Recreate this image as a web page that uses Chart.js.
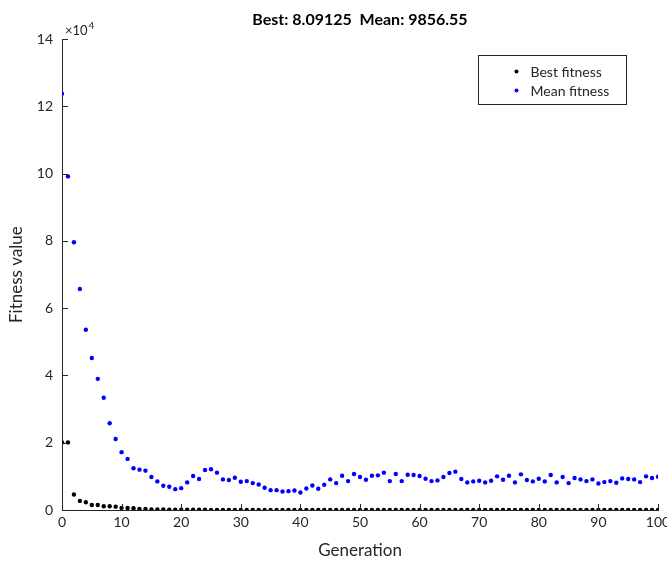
<!DOCTYPE html>
<html>
<head>
<meta charset="utf-8">
<script src="https://cdn.jsdelivr.net/npm/chart.js@4.4.1/dist/chart.umd.min.js"></script>
<style>
  html, body { margin: 0; padding: 0; background: #fff; }
  #wrap { width: 667px; height: 561px; }
</style>
</head>
<body>
<div id="wrap"><canvas id="gaChart" width="667" height="561"></canvas></div>
<script>
// generation index 0..100
const generations = Array.from({ length: 101 }, (_, i) => i);

const bestFitness = [
  20100, 20100, 4600, 2700, 2300, 1500, 1500, 1100, 1100, 1000,
  600, 600, 500, 300, 300, 200, 200, 150, 120, 100,
  90, 80, 70, 60, 55, 50, 45, 40, 38, 35,
  32, 30, 28, 26, 25, 24, 22, 21, 20, 19,
  18, 17.5, 17, 16.5, 16, 15.5, 15, 14.6, 14.2, 13.8,
  13.5, 13.2, 12.9, 12.6, 12.3, 12.0, 11.8, 11.6, 11.4, 11.2,
  11.0, 10.8, 10.6, 10.4, 10.3, 10.2, 10.0, 9.9, 9.8, 9.7,
  9.6, 9.5, 9.4, 9.3, 9.2, 9.1, 9.0, 8.95, 8.9, 8.85,
  8.8, 8.75, 8.7, 8.65, 8.6, 8.55, 8.5, 8.45, 8.4, 8.35,
  8.3, 8.27, 8.24, 8.21, 8.18, 8.15, 8.13, 8.11, 8.1, 8.095, 8.09125
];

const meanFitness = [
  123800, 99200, 79600, 65700, 53600, 45200, 39000, 33400, 25800, 21100,
  17200, 15200, 12400, 12000, 11700, 9800, 8500, 7200, 6900, 6200,
  6500, 8200, 10100, 9200, 11900, 12100, 11100, 9100, 8900, 9600,
  8400, 8600, 8000, 7600, 6600, 5900, 5900, 5500, 5600, 5800,
  5200, 6400, 7300, 6300, 7500, 9100, 8000, 10200, 8600, 10700,
  9800, 9000, 10200, 10300, 11100, 8600, 10700, 8600, 10500, 10400,
  10100, 9300, 8600, 8800, 9800, 11000, 11400, 9200, 8200, 8500,
  8700, 8200, 8700, 10000, 9000, 10200, 8200, 10600, 8900, 8500,
  9300, 8500, 10400, 8200, 9800, 8000, 9500, 9100, 8600, 9100,
  7900, 8300, 8600, 8100, 9400, 9200, 9100, 8300, 10000, 9500, 9900
];

const yTicks = [0, 2, 4, 6, 8, 10, 12, 14]; // in units of 1e4
const xTicks = [0, 10, 20, 30, 40, 50, 60, 70, 80, 90, 100];

const axisColor = '#262626';
const fontFam = 'Lato, "Open Sans", sans-serif';

const pts = arr => arr.map((v, i) => ({ x: generations[i], y: v }));

// inward tick marks, MATLAB style
const innerTicks = {
  id: 'innerTicks',
  afterDraw(chart) {
    const { ctx, scales: { x, y } } = chart;
    ctx.save();
    ctx.strokeStyle = axisColor;
    ctx.lineWidth = 1;
    ctx.beginPath();
    xTicks.forEach(t => {
      const px = Math.round(x.getPixelForValue(t)) + 0.5;
      ctx.moveTo(px, y.bottom);
      ctx.lineTo(px, y.bottom - 6);
    });
    yTicks.forEach(t => {
      const py = Math.round(y.getPixelForValue(t * 1e4)) + 0.5;
      ctx.moveTo(x.left, py);
      ctx.lineTo(x.left + 6, py);
    });
    ctx.stroke();

    // exponent label
    ctx.fillStyle = axisColor;
    ctx.textBaseline = 'alphabetic';
    ctx.textAlign = 'left';
    ctx.font = '13px ' + fontFam;
    ctx.fillText('\u00d710', x.left + 3, y.top - 4);
    const w = ctx.measureText('\u00d710').width;
    ctx.font = '10px ' + fontFam;
    ctx.fillText('4', x.left + 3 + w + 1, y.top - 10);
    ctx.restore();
  }
};

// boxed legend in the upper right
const boxLegend = {
  id: 'boxLegend',
  afterDraw(chart) {
    const { ctx } = chart;
    const bx = 478.5, by = 55.5, bw = 148, bh = 49;
    ctx.save();
    ctx.fillStyle = '#fff';
    ctx.fillRect(bx, by, bw, bh);
    ctx.strokeStyle = axisColor;
    ctx.lineWidth = 1;
    ctx.strokeRect(bx, by, bw, bh);
    ctx.font = '14px ' + fontFam;
    ctx.textBaseline = 'middle';
    ctx.textAlign = 'left';
    chart.data.datasets.forEach((ds, i) => {
      const cy = by + 16 + i * 19;
      ctx.fillStyle = ds.pointBackgroundColor;
      ctx.beginPath();
      ctx.arc(bx + 38, cy, 2, 0, Math.PI * 2);
      ctx.fill();
      ctx.fillStyle = axisColor;
      ctx.fillText(ds.label, bx + 52, cy + 1);
    });
    ctx.restore();
  }
};

new Chart(document.getElementById('gaChart'), {
  type: 'scatter',
  data: {
    datasets: [
      {
        label: 'Best fitness',
        data: pts(bestFitness),
        pointBackgroundColor: '#000000',
        pointBorderWidth: 0,
        pointRadius: 2.2,
        showLine: false
      },
      {
        label: 'Mean fitness',
        data: pts(meanFitness),
        pointBackgroundColor: '#0000ff',
        pointBorderWidth: 0,
        pointRadius: 2.2,
        showLine: false
      }
    ]
  },
  options: {
    responsive: false,
    animation: false,
    layout: { padding: { left: 0, right: 9, top: 0, bottom: 0 } },
    plugins: {
      legend: { display: false },
      tooltip: { enabled: false },
      title: {
        display: true,
        text: 'Best: 8.09125  Mean: 9856.55',
        fullSize: false,
        color: '#000',
        font: { family: fontFam, size: 16, weight: 'bold' },
        padding: { top: 10, bottom: 10 }
      }
    },
    scales: {
      x: {
        type: 'linear',
        min: 0,
        max: 100,
        afterBuildTicks: s => { s.ticks = xTicks.map(v => ({ value: v })); },
        afterFit: s => { s.height = 51; s.paddingRight = 0; s.paddingLeft = 0; },
        grid: { display: false, drawTicks: false },
        border: { display: true, color: axisColor, width: 1 },
        ticks: { color: axisColor, padding: 4, font: { family: fontFam, size: 14 } },
        title: {
          display: true,
          text: 'Generation',
          color: axisColor,
          font: { family: fontFam, size: 17 },
          padding: { top: 2, bottom: 0 }
        }
      },
      y: {
        min: 0,
        max: 140000,
        afterBuildTicks: s => { s.ticks = yTicks.map(v => ({ value: v * 1e4 })); },
        afterFit: s => { s.width = 62; },
        grid: { display: false, drawTicks: false },
        border: { display: true, color: axisColor, width: 1 },
        ticks: {
          color: axisColor,
          padding: 9,
          font: { family: fontFam, size: 14 },
          callback: v => v / 1e4
        },
        title: {
          display: true,
          text: 'Fitness value',
          color: axisColor,
          font: { family: fontFam, size: 17 },
          padding: { top: 6, bottom: 0 }
        }
      }
    }
  },
  plugins: [innerTicks, boxLegend]
});
</script>
</body>
</html>
